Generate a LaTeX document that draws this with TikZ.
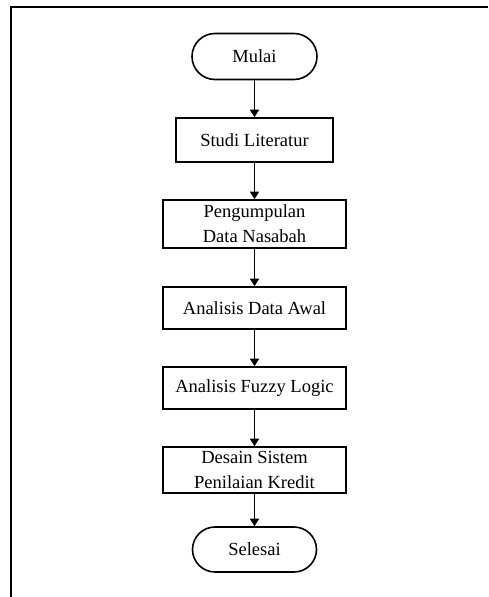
\documentclass[tikz,border=0pt]{standalone}
\usepackage{fontspec}
\setmainfont{Liberation Serif}
\usetikzlibrary{arrows.meta,positioning}
\begin{document}
\begin{tikzpicture}[x=1pt,y=-1pt,
  every node/.style={font=\fontsize{18.5}{25}\selectfont, align=center, inner sep=0pt},
  procbox/.style={draw, line width=1.6pt, minimum width=183pt},
  termbox/.style={draw, line width=1.6pt, minimum width=125pt, minimum height=46pt, rounded corners=23pt},
  flow/.style={draw, line width=1.5pt, -{Triangle[length=7.5pt,width=9pt]}}]
\useasboundingbox (0,0) rectangle (488,597);
\fill[white] (0,0) rectangle (488,597);
\draw[line width=2.4pt] (11,597) -- (11,7) -- (488,7);
\node[termbox] (mulai) at (254.5,56.5) {Mulai};
\node[procbox, minimum width=157pt, minimum height=44pt] (studi) at (254.5,140) {Studi Literatur};
\node[procbox, minimum height=48pt] (kumpul) at (254.5,224) {Pengumpulan\\Data Nasabah};
\node[procbox, minimum height=42pt] (awal) at (254.5,308) {Analisis Data Awal};
\node[procbox, minimum height=42pt] (fuzzy) at (254.5,388) {Analisis Fuzzy Logic};
\node[procbox, minimum height=46pt] (desain) at (254.5,470) {Desain Sistem\\Penilaian Kredit};
\node[termbox, minimum width=124pt, minimum height=45pt, rounded corners=22.5pt] (selesai) at (254.5,549.5) {Selesai};
\draw[flow] (mulai) -- (studi);
\draw[flow] (studi) -- (kumpul);
\draw[flow] (kumpul) -- (awal);
\draw[flow] (awal) -- (fuzzy);
\draw[flow] (fuzzy) -- (desain);
\draw[flow] (desain) -- (selesai);
\end{tikzpicture}
\end{document}
